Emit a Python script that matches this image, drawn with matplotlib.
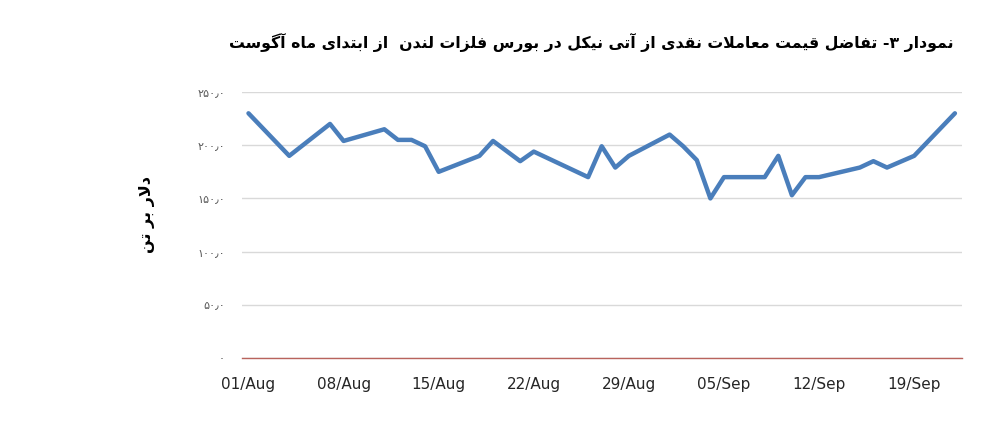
import matplotlib
matplotlib.use("Agg")
import matplotlib.pyplot as plt
import pandas as pd

# data (USD per tonne)
dates = ['2016-08-01', '2016-08-04', '2016-08-07', '2016-08-08', '2016-08-11',
         '2016-08-12', '2016-08-13', '2016-08-14', '2016-08-15', '2016-08-18',
         '2016-08-19', '2016-08-21', '2016-08-22', '2016-08-26', '2016-08-27',
         '2016-08-28', '2016-08-29', '2016-09-01', '2016-09-02', '2016-09-03',
         '2016-09-04', '2016-09-05', '2016-09-08', '2016-09-09', '2016-09-10',
         '2016-09-11', '2016-09-12', '2016-09-15', '2016-09-16', '2016-09-17',
         '2016-09-19', '2016-09-22']
values = [230, 190, 220, 204, 215,
          205, 205, 199, 175, 190,
          204, 185, 194, 170, 199,
          179, 190, 210, 199, 186,
          150, 170, 170, 190, 153,
          170, 170, 179, 185, 179,
          190, 230]
yticks = [0, 50, 100, 150, 200, 250]
ytick_labels = ['۰', '۵۰٫۰', '۱۰۰٫۰', '۱۵۰٫۰', '۲۰۰٫۰', '۲۵۰٫۰']
title = 'نمودار ۳- تفاضل قیمت معاملات نقدی از آتی نیکل در بورس فلزات لندن  از ابتدای ماه آگوست'
ylabel = 'دلار بر تن'

# matplotlib does no arabic shaping, so pick the contextual forms by hand
# (isolated, final, initial, medial)
FORMS = {
    '\u0627': ('\uFE8D', '\uFE8E', None, None),
    '\u0622': ('\uFE81', '\uFE82', None, None),
    '\u0628': ('\uFE8F', '\uFE90', '\uFE91', '\uFE92'),
    '\u062A': ('\uFE95', '\uFE96', '\uFE97', '\uFE98'),
    '\u062F': ('\uFEA9', '\uFEAA', None, None),
    '\u0631': ('\uFEAD', '\uFEAE', None, None),
    '\u0632': ('\uFEAF', '\uFEB0', None, None),
    '\u0633': ('\uFEB1', '\uFEB2', '\uFEB3', '\uFEB4'),
    '\u0636': ('\uFEBD', '\uFEBE', '\uFEBF', '\uFEC0'),
    '\u0637': ('\uFEC1', '\uFEC2', '\uFEC3', '\uFEC4'),
    '\u0639': ('\uFEC9', '\uFECA', '\uFECB', '\uFECC'),
    '\u0641': ('\uFED1', '\uFED2', '\uFED3', '\uFED4'),
    '\u0642': ('\uFED5', '\uFED6', '\uFED7', '\uFED8'),
    '\u0644': ('\uFEDD', '\uFEDE', '\uFEDF', '\uFEE0'),
    '\u0645': ('\uFEE1', '\uFEE2', '\uFEE3', '\uFEE4'),
    '\u0646': ('\uFEE5', '\uFEE6', '\uFEE7', '\uFEE8'),
    '\u0647': ('\uFEE9', '\uFEEA', '\uFEEB', '\uFEEC'),
    '\u0648': ('\uFEED', '\uFEEE', None, None),
    '\u06CC': ('\uFBFC', '\uFBFD', '\uFBFE', '\uFBFF'),
    '\u06A9': ('\uFB8E', '\uFB8F', '\uFB90', '\uFB91'),
    '\u06AF': ('\uFB92', '\uFB93', '\uFB94', '\uFB95'),
}
LAM_ALEF = {'\u0627': ('\uFEFB', '\uFEFC'), '\u0622': ('\uFEF5', '\uFEF6')}


def joins_forward(ch):
    return ch in FORMS and FORMS[ch][2] is not None


def shape_fa(text):
    out = []
    prev = None
    i = 0
    while i < len(text):
        c = text[i]
        if c not in FORMS:
            out.append(c)
            prev = None
            i += 1
            continue
        joined_before = prev is not None and joins_forward(prev)
        nxt = text[i + 1] if i + 1 < len(text) else None
        if c == '\u0644' and nxt in LAM_ALEF:
            iso, fin = LAM_ALEF[nxt]
            out.append(fin if joined_before else iso)
            prev = nxt
            i += 2
            continue
        joined_after = joins_forward(c) and nxt in FORMS
        f = FORMS[c]
        if joined_before and joined_after:
            g = f[3]
        elif joined_before:
            g = f[1]
        elif joined_after:
            g = f[2]
        else:
            g = f[0]
        out.append(g)
        prev = c
        i += 1
    return ''.join(reversed(out))


plt.rcParams['font.family'] = ['DejaVu Sans']

x = pd.to_datetime(dates)
fig = plt.figure(figsize=(10, 4.48), dpi=100)
ax = fig.add_axes([0.2417, 0.2009, 0.72, 0.5937])

ax.plot(x, values, color='#4a7ebb', lw=3.2, solid_capstyle='round', solid_joinstyle='round', zorder=3)

ax.set_ylim(0, 250)
ax.set_yticks(yticks)
ax.set_yticklabels(ytick_labels, fontsize=8, color='#595959')
ax.yaxis.grid(True, color='#d9d9d9', lw=1)
ax.set_axisbelow(True)

start = pd.Timestamp('2016-08-01')
ax.set_xlim(start - pd.Timedelta(hours=12), pd.Timestamp('2016-09-22') + pd.Timedelta(hours=12))
xt = pd.date_range('2016-08-01', '2016-09-19', freq='7D')
ax.set_xticks(xt)
ax.set_xticklabels([d.strftime('%d/%b') for d in xt], fontsize=11, color='#262626')

for s in ['top', 'right', 'left']:
    ax.spines[s].set_visible(False)
ax.spines['bottom'].set_color('#b9635d')
ax.spines['bottom'].set_linewidth(1)
ax.tick_params(axis='both', length=0)
ax.tick_params(axis='x', pad=14)
ax.tick_params(axis='y', pad=12)

ax.set_ylabel(shape_fa(ylabel), fontsize=11.5, fontweight='bold', color='black')
ax.yaxis.set_label_coords(-0.12, 0.54)

fig.text(0.591, 1 - 42 / 448, shape_fa(title), ha='center', va='center',
         fontsize=11.3, fontweight='bold', color='black')

fig.savefig('out.png', dpi=100, facecolor='white')
